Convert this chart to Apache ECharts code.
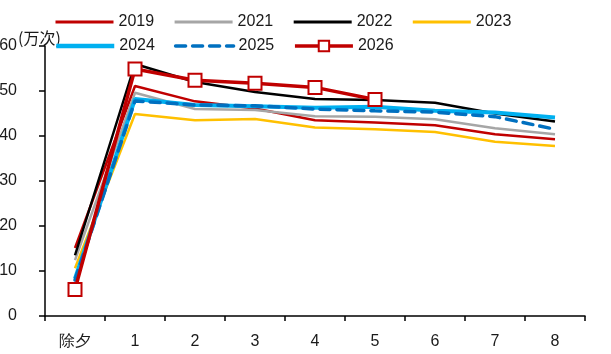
<!DOCTYPE html>
<html>
<head>
<meta charset="utf-8">
<script src="https://cdn.jsdelivr.net/npm/echarts@6/dist/echarts.min.js"></script>
<style>
  html, body { margin: 0; padding: 0; background: #fff; }
  #chart { width: 611px; height: 354px; }
</style>
</head>
<body>
<div id="chart"></div>
<script>
// Daily passenger trips (万次) around the Spring Festival, by year
const days = ['除夕', '1', '2', '3', '4', '5', '6', '7', '8'];

const y2019 = [15.1, 51.1, 47.7, 46.1, 43.5, 43.0, 42.4, 40.4, 39.3];
const y2021 = [12.4, 49.6, 46.0, 45.8, 44.4, 44.3, 43.7, 41.7, 40.4];
const y2022 = [13.5, 56.0, 52.0, 49.8, 48.2, 48.0, 47.4, 45.0, 43.2];
const y2023 = [10.6, 44.9, 43.5, 43.8, 41.9, 41.5, 40.9, 38.7, 37.8];
const y2024 = [8.3, 48.2, 46.9, 46.6, 46.3, 46.5, 45.6, 45.2, 44.1];
const y2025 = [8.0, 47.8, 46.9, 46.7, 46.0, 45.6, 45.3, 44.3, 41.5];
const y2026 = [5.9, 54.9, 52.4, 51.7, 50.8, 48.1];

const yTicks = { min: 0, max: 60, interval: 10 };

const FONT = 'Liberation Sans';

function line(name, data, color, width, extra) {
  return Object.assign({
    name: name,
    type: 'line',
    data: data,
    symbol: 'none',
    smooth: false,
    lineStyle: { color: color, width: width },
    itemStyle: { color: color },
    emphasis: { disabled: true }
  }, extra || {});
}

// legend entry drawn as a plain line (no marker)
function plainItem(name, width) {
  return { name: name, itemStyle: { opacity: 0 }, lineStyle: { width: width } };
}

const legendBase = {
  left: 49,
  itemWidth: 58,
  itemHeight: 13,
  itemGap: 19,
  textStyle: { fontFamily: FONT, fontSize: 16, color: '#1a1a1a' },
  selectedMode: false
};

const chart = echarts.init(document.getElementById('chart'), null, { renderer: 'canvas' });
chart.setOption({
  animation: false,
  backgroundColor: '#fff',
  grid: { left: 45, right: 26, top: 46, bottom: 38, containLabel: false, outerBoundsMode: 'none' },
  legend: [
    Object.assign({}, legendBase, {
      top: 9,
      data: [plainItem('2019', 3), plainItem('2021', 3), plainItem('2022', 3), plainItem('2023', 3)]
    }),
    Object.assign({}, legendBase, {
      top: 33,
      data: [
        plainItem('2024', 4.5),
        { name: '2025', itemStyle: { opacity: 0 }, lineStyle: { width: 3.5, type: [10, 7], cap: 'round' } },
        { name: '2026', lineStyle: { width: 3.5 } }
      ]
    })
  ],
  graphic: [{
    type: 'text',
    left: 18,
    top: 30,
    style: { text: '(万次)', font: '16px "Noto Sans CJK SC"', fill: '#1a1a1a' }
  }],
  xAxis: {
    type: 'category',
    data: days,
    boundaryGap: true,
    axisLine: { lineStyle: { color: '#000', width: 1.5 } },
    axisTick: { show: true, length: 5, lineStyle: { color: '#000', width: 1.5 } },
    axisLabel: { margin: 18, color: '#1a1a1a', fontFamily: FONT, fontSize: 16 }
  },
  yAxis: {
    type: 'value',
    min: yTicks.min,
    max: yTicks.max,
    interval: yTicks.interval,
    splitLine: { show: false },
    axisLine: { show: true, lineStyle: { color: '#000', width: 1.5 } },
    axisTick: { show: true, length: 6, lineStyle: { color: '#000', width: 1.5 } },
    axisLabel: { margin: 28, color: '#1a1a1a', fontFamily: FONT, fontSize: 16 }
  },
  series: [
    line('2019', y2019, '#C00000', 2.5),
    line('2021', y2021, '#A6A6A6', 2.5),
    line('2022', y2022, '#000000', 2.5),
    line('2023', y2023, '#FFC000', 2.5),
    line('2024', y2024, '#00B0F0', 4),
    line('2025', y2025, '#0070C0', 3.5, {
      lineStyle: { color: '#0070C0', width: 3.5, type: [10, 7], cap: 'round' }
    }),
    line('2026', y2026, '#C00000', 3.5, {
      symbol: 'rect',
      symbolSize: 13,
      showAllSymbol: true,
      itemStyle: { color: '#fff', borderColor: '#C00000', borderWidth: 2 },
      z: 10
    })
  ]
});
</script>
</body>
</html>
